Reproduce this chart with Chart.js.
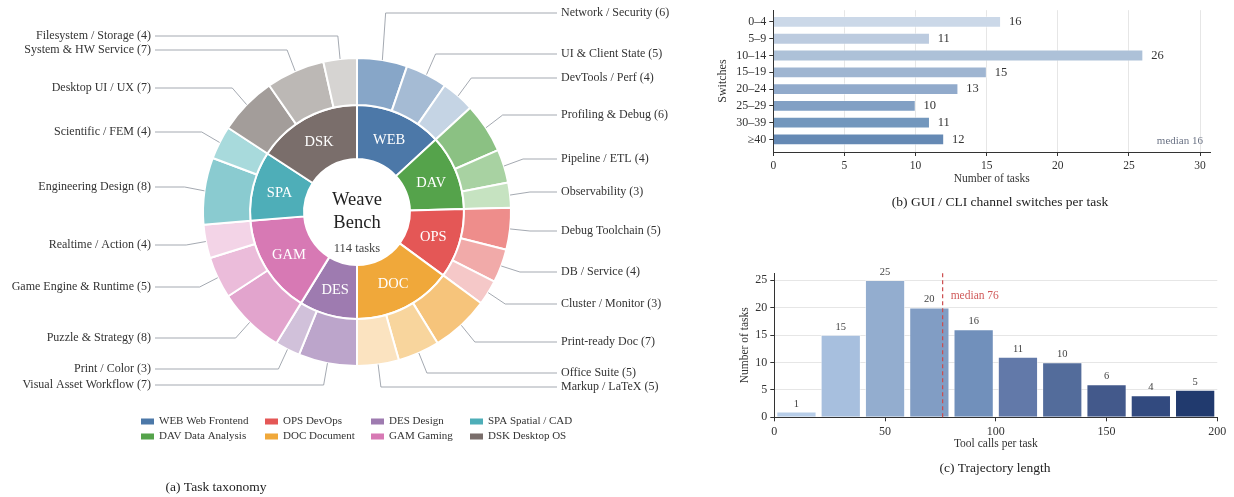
<!DOCTYPE html>
<html><head><meta charset="utf-8">
<script src="https://cdn.jsdelivr.net/npm/chart.js@4.4.1/dist/chart.umd.min.js"></script>
<style>
html,body{margin:0;padding:0;background:#fff;}
body{width:1234px;height:497px;position:relative;overflow:hidden}
canvas{position:absolute;display:block}
</style></head><body>
<canvas id="cA" width="700" height="497" style="left:0;top:0"></canvas>
<canvas id="cB" width="534" height="215" style="left:700px;top:0"></canvas>
<canvas id="cC" width="534" height="242" style="left:700px;top:255px"></canvas>
<script>
// ================= DATA =================
// (a) Task taxonomy
const groupCodes = ['WEB','DAV','OPS','DOC','DES','GAM','SPA','DSK'];
const groupNames = ['Web Frontend','Data Analysis','DevOps','Document','Design','Gaming','Spatial / CAD','Desktop OS'];
const groupCounts = [15,13,12,17,10,17,12,18];
const subLabels = ['Network / Security','UI & Client State','DevTools / Perf',
  'Profiling & Debug','Pipeline / ETL','Observability',
  'Debug Toolchain','DB / Service','Cluster / Monitor',
  'Print-ready Doc','Office Suite','Markup / LaTeX',
  'Visual Asset Workflow','Print / Color',
  'Puzzle & Strategy','Game Engine & Runtime','Realtime / Action',
  'Engineering Design','Scientific / FEM',
  'Desktop UI / UX','System & HW Service','Filesystem / Storage'];
const subCounts = [6,5,4, 6,4,3, 5,4,3, 7,5,5, 7,3, 8,5,4, 8,4, 7,7,4];
const centerTitle = ['Weave','Bench'];

// (b) GUI / CLI channel switches per task
const switchBins = ['0–4','5–9','10–14','15–19','20–24','25–29','30–39','≥40'];
const switchCounts = [16,11,26,15,13,10,11,12];
const switchMedian = 16;
const switchXTicks = [0,5,10,15,20,25,30];

// (c) Trajectory length
const trajBinCenters = [10,30,50,70,90,110,130,150,170,190];
const trajCounts = [1,15,25,20,16,11,10,6,4,5];
const trajMedian = 76;
const trajXTicks = [0,50,100,150,200];
const trajYTicks = [0,5,10,15,20,25];

// ================= STYLE / LAYOUT =================
const FONT = '"Liberation Serif", "Times New Roman", serif';
Chart.defaults.font.family = FONT;
Chart.defaults.color = '#333';
const GROUP_COLORS = ['#4c78a8','#55a34b','#e45756','#f0a83a','#9e7bb0','#d779b4','#4eaeb8','#7a6e6b'];
const SUB_COLORS = ['#87a6c8','#a5bbd4','#c5d4e4',
  '#8bc183','#a8d2a2','#c6e3c1',
  '#ee8d8b','#f1aaa9','#f5c8c8',
  '#f6c47b','#f8d59d','#fbe3c0',
  '#bca5cb','#d1c1da',
  '#e2a4cd','#ebbcda','#f3d4e7',
  '#8acbd0','#a8dadc',
  '#a39d9a','#bcb8b5','#d6d4d2'];
// vertical text positions of the outer labels (layout only)
const LABEL_Y = [13,54,78,115,159,192,231,272,304,342,373,387,385,369,338,287,245,187,132,88,50,36];
const SWITCH_COLORS = ['#cbd8e8','#bccbdf','#adc1d8','#9fb5d1','#91aacb','#82a0c4','#7397bd','#6589b4'];
const TRAJ_COLORS = ['#b7cde8','#a7bfde','#93adcf','#819dc4','#7190bb','#6279a9','#536c9b','#43598b','#324a7f','#213a6e'];

// ================= (a) donut =================
const donutDecor = {
  id:'donutDecor',
  afterDatasetsDraw(chart){
    const ctx = chart.ctx;
    const outer = chart.getDatasetMeta(0).data;
    const inner = chart.getDatasetMeta(1).data;
    ctx.save();
    ctx.lineWidth = 0.9;
    ctx.strokeStyle = '#9a9fa8';
    ctx.fillStyle = '#333';
    ctx.font = '12px ' + FONT;
    ctx.textBaseline = 'middle';
    outer.forEach((arc,i)=>{
      const p = arc.getProps(['x','y','startAngle','endAngle','outerRadius'], true);
      const a = (p.startAngle + p.endAngle)/2, c = Math.cos(a), s = Math.sin(a);
      const R = p.outerRadius;
      const px = p.x + R*c, py = p.y + R*s;
      const ex = p.x + (R+20)*c, ey = LABEL_Y[i];
      const right = c > 0;
      const hx = right ? 557 : 155;
      ctx.beginPath(); ctx.moveTo(px,py); ctx.lineTo(ex,ey); ctx.lineTo(hx,ey); ctx.stroke();
      ctx.textAlign = right ? 'left' : 'right';
      ctx.fillText(subLabels[i] + ' (' + subCounts[i] + ')', right ? 561 : 151, ey);
    });
    ctx.fillStyle = '#fff';
    ctx.font = '14.5px ' + FONT;
    ctx.textAlign = 'center';
    inner.forEach((arc,i)=>{
      const p = arc.getProps(['x','y','startAngle','endAngle','outerRadius','innerRadius'], true);
      const a = (p.startAngle + p.endAngle)/2, r = (p.innerRadius + p.outerRadius)/2;
      ctx.fillText(groupCodes[i], p.x + r*Math.cos(a), p.y + r*Math.sin(a) + 1);
    });
    const cx = inner[0].x, cy = inner[0].y;
    ctx.fillStyle = '#222';
    ctx.font = '18.5px ' + FONT;
    ctx.fillText(centerTitle[0], cx, cy - 12);
    ctx.fillText(centerTitle[1], cx, cy + 11);
    ctx.fillStyle = '#444';
    ctx.font = '12.5px ' + FONT;
    const total = groupCounts.reduce((s,v)=>s+v,0);
    ctx.fillText(total + ' tasks', cx, cy + 37);
    const colX = [141,265,371,470], rowY = [421.5,436.5];
    ctx.font = '11px ' + FONT;
    ctx.textAlign = 'left';
    groupCodes.forEach((g,i)=>{
      const x = colX[Math.floor(i/2)], y = rowY[i%2];
      ctx.fillStyle = GROUP_COLORS[i];
      ctx.fillRect(x, y-3, 13, 6);
      ctx.fillStyle = '#333';
      ctx.fillText(g + ' ' + groupNames[i], x + 18, y);
    });
    ctx.font = '13.5px ' + FONT;
    ctx.textAlign = 'center';
    ctx.fillStyle = '#222';
    ctx.fillText('(a) Task taxonomy', 216, 487);
    ctx.restore();
  }
};

new Chart(document.getElementById('cA'), {
  type:'doughnut',
  data:{labels: subLabels, datasets:[
    {data: subCounts, backgroundColor: SUB_COLORS, borderColor:'#fff', borderWidth:2, weight:47, hoverOffset:0, offset:0},
    {data: groupCounts, backgroundColor: GROUP_COLORS, borderColor:'#fff', borderWidth:2, weight:54, hoverOffset:0, offset:0}
  ]},
  options:{responsive:false, animation:false, events:[], cutout:'34.4%',
    layout:{padding:{left:202,right:188,top:57,bottom:130}},
    plugins:{legend:{display:false}, tooltip:{enabled:false}}},
  plugins:[donutDecor]
});

// ================= (b) switches =================
const switchDecor = {
  id:'switchDecor',
  afterDatasetsDraw(chart){
    const ctx = chart.ctx, ca = chart.chartArea;
    ctx.save();
    ctx.fillStyle = '#333';
    ctx.font = '12.5px ' + FONT;
    ctx.textBaseline = 'middle';
    ctx.textAlign = 'left';
    chart.getDatasetMeta(0).data.forEach((bar,i)=>{
      ctx.fillText(String(switchCounts[i]), bar.x + 8, bar.y);
    });
    ctx.fillStyle = '#6b7385';
    ctx.font = '11px ' + FONT;
    ctx.textAlign = 'right';
    ctx.fillText('median ' + switchMedian, ca.right - 7, 141);
    ctx.fillStyle = '#222';
    ctx.font = '13.5px ' + FONT;
    ctx.textAlign = 'center';
    ctx.fillText('(b) GUI / CLI channel switches per task', 300, 202);
    ctx.restore();
  }
};

new Chart(document.getElementById('cB'), {
  type:'bar',
  data:{datasets:[{data: switchCounts.map((v,i)=>({x:v, y:i})), backgroundColor: SWITCH_COLORS,
    borderColor:'rgba(255,255,255,0.6)', borderWidth:0.8, barPercentage:0.68, categoryPercentage:1}]},
  options:{indexAxis:'y', responsive:false, animation:false, events:[],
    layout:{padding:{top:8,right:24,bottom:29,left:0}},
    plugins:{legend:{display:false}, tooltip:{enabled:false}},
    scales:{
      x:{type:'linear', min:0, max:30.7, offset:false,
        afterBuildTicks:s=>{s.ticks = switchXTicks.map(v=>({value:v}));},
        afterFit:s=>{s.height = 34;},
        grid:{color:'#e6e6e6', tickColor:'#333', tickLength:4, lineWidth:1, offset:false},
        border:{color:'#333', width:1},
        ticks:{color:'#333', font:{size:11.5}, padding:3, maxRotation:0},
        title:{display:true, text:'Number of tasks', color:'#333', font:{size:11.5}, padding:{top:0,bottom:0}}},
      y:{type:'linear', reverse:true, min:-0.7, max:7.75, offset:false,
        afterBuildTicks:s=>{s.ticks = switchBins.map((_,i)=>({value:i}));},
        afterFit:s=>{s.width = 73.3;},
        grid:{drawOnChartArea:false, tickColor:'#333', tickLength:4, offset:false},
        border:{color:'#333', width:1},
        ticks:{color:'#333', font:{size:12}, padding:3, callback:v=>switchBins[v]},
        title:{display:true, text:'Switches', color:'#333', font:{size:12}, padding:{top:16,bottom:0}}}
    }},
  plugins:[switchDecor]
});

// ================= (c) trajectory =================
const trajDecor = {
  id:'trajDecor',
  afterDatasetsDraw(chart){
    const ctx = chart.ctx, ca = chart.chartArea, xs = chart.scales.x;
    ctx.save();
    ctx.fillStyle = '#444';
    ctx.font = '10.5px ' + FONT;
    ctx.textAlign = 'center';
    ctx.textBaseline = 'middle';
    chart.getDatasetMeta(0).data.forEach((bar,i)=>{
      ctx.fillText(String(trajCounts[i]), bar.x, bar.y - 8);
    });
    const px = xs.getPixelForValue(trajMedian);
    ctx.strokeStyle = '#cc4b4d';
    ctx.lineWidth = 1.2;
    ctx.setLineDash([4,3]);
    ctx.beginPath(); ctx.moveTo(px, ca.top); ctx.lineTo(px, ca.bottom); ctx.stroke();
    ctx.setLineDash([]);
    ctx.fillStyle = '#d05a5a';
    ctx.font = '11.5px ' + FONT;
    ctx.textAlign = 'left';
    ctx.fillText('median ' + trajMedian, px + 8, 41);
    ctx.fillStyle = '#222';
    ctx.font = '13.5px ' + FONT;
    ctx.textAlign = 'center';
    ctx.fillText('(c) Trajectory length', 295, 213);
    ctx.restore();
  }
};

new Chart(document.getElementById('cC'), {
  type:'bar',
  data:{datasets:[{data: trajBinCenters.map((c,i)=>({x:c, y:trajCounts[i]})), backgroundColor: TRAJ_COLORS,
    borderColor:'rgba(255,255,255,0.7)', borderWidth:0.8, barPercentage:0.9, categoryPercentage:1}]},
  options:{responsive:false, animation:false, events:[],
    layout:{padding:{top:18.3,right:16.7,bottom:46.1,left:0}},
    plugins:{legend:{display:false}, tooltip:{enabled:false}},
    scales:{
      x:{type:'linear', min:0, max:200, offset:false,
        afterBuildTicks:s=>{s.ticks = trajXTicks.map(v=>({value:v}));},
        afterFit:s=>{s.height = 33.6;},
        grid:{drawOnChartArea:false, tickColor:'#333', tickLength:4, offset:false},
        border:{color:'#333', width:1},
        ticks:{color:'#333', font:{size:12}, padding:3, maxRotation:0},
        title:{display:true, text:'Tool calls per task', color:'#333', font:{size:11.5}, padding:{top:0,bottom:0}}},
      y:{type:'linear', min:0, max:26.25,
        afterBuildTicks:s=>{s.ticks = trajYTicks.map(v=>({value:v}));},
        afterFit:s=>{s.width = 74.3;},
        grid:{color:'#e6e6e6', tickColor:'#333', tickLength:4},
        border:{color:'#333', width:1},
        ticks:{color:'#333', font:{size:12}, padding:3},
        title:{display:true, text:'Number of tasks', color:'#333', font:{size:11.5}, padding:{top:38,bottom:0}}}
    }},
  plugins:[trajDecor]
});
</script>
</body></html>
